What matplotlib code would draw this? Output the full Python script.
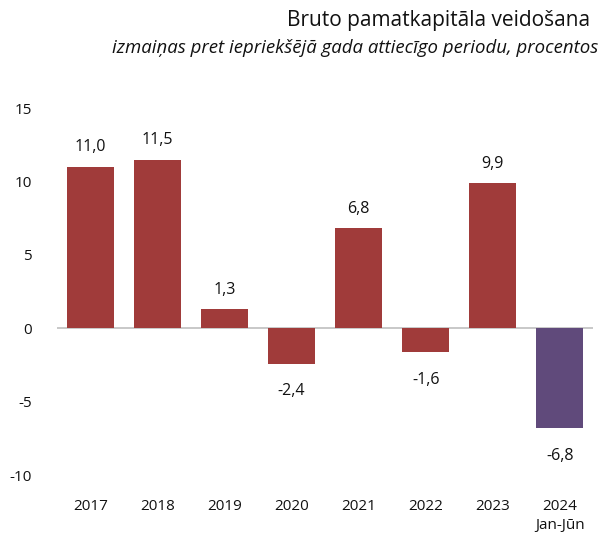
import matplotlib
matplotlib.use("Agg")
import matplotlib.pyplot as plt

years = ["2017", "2018", "2019", "2020", "2021", "2022", "2023", "2024\nJan-Jūn"]
values = [11.0, 11.5, 1.3, -2.4, 6.8, -1.6, 9.9, -6.8]
colors = ["#A03B3A"] * 7 + ["#604A7B"]

plt.rcParams["font.family"] = ["Open Sans", "DejaVu Sans"]

fig = plt.figure(figsize=(6.03, 5.38), dpi=100)
ax = fig.add_axes([0.094, 0.117, 0.890, 0.682])

x = range(len(values))
ax.bar(x, values, width=0.7, color=colors, zorder=2)
ax.axhline(0, color="#BFBFBF", lw=1.2, zorder=1)

for i, v in enumerate(values):
    label = f"{v:.1f}".replace(".", ",")
    off = 14 if v >= 0 else -20
    ax.annotate(label, (i, v), xytext=(0, off), textcoords="offset points",
                ha="center", va="center", fontsize=11.5, color="#111111")

ax.set_xlim(-0.5, 7.5)
ax.set_ylim(-10, 15)
ax.set_yticks([-10, -5, 0, 5, 10, 15])
ax.set_yticklabels(["-10", "-5", "0", "5", "10", "15"])
ax.set_xticks(list(x))
ax.set_xticklabels(years, linespacing=1.4)
ax.tick_params(axis="both", length=0, labelsize=11, colors="#111111")
ax.tick_params(axis="y", pad=18)
ax.tick_params(axis="x", pad=17)
for s in ax.spines.values():
    s.set_visible(False)

fig.text(0.979, 0.962, "Bruto pamatkapitāla veidošana", ha="right", va="center",
         fontsize=15, color="#111111")
fig.text(0.992, 0.91, "izmaiņas pret iepriekšējā gada attiecīgo periodu, procentos",
         ha="right", va="center", fontsize=13.4, style="italic", color="#111111")

fig.savefig("out.png", dpi=100)
